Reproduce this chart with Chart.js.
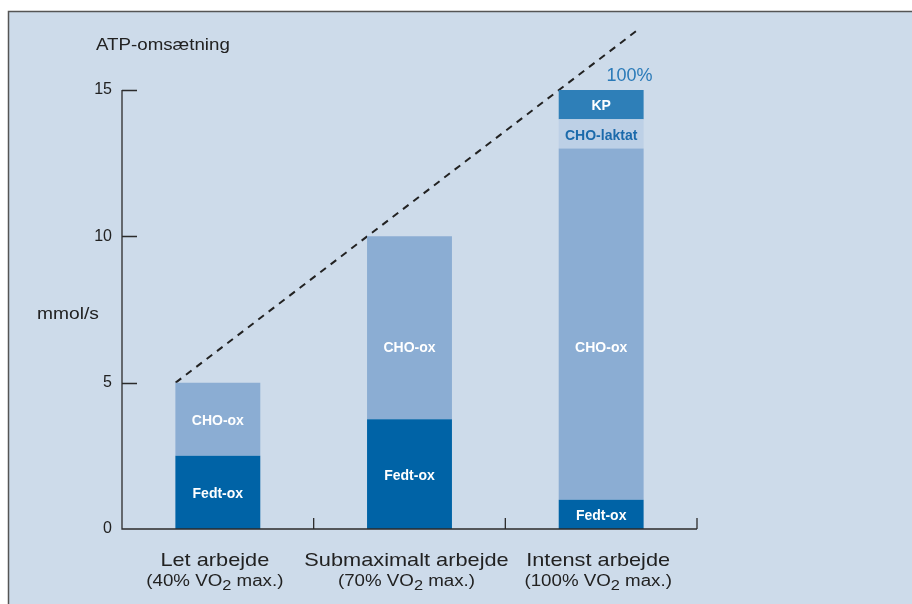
<!DOCTYPE html>
<html>
<head>
<meta charset="utf-8">
<script src="https://cdn.jsdelivr.net/npm/chart.js@4/dist/chart.umd.min.js"></script>
<style>
  html, body { margin: 0; padding: 0; background: #ffffff; }
  #wrap { width: 912px; height: 604px; position: relative; }
</style>
</head>
<body>
<div id="wrap"><canvas id="c" width="912" height="604"></canvas></div>
<script>
// ---- data ----
const categories = ['Let arbejde', 'Submaximalt arbejde', 'Intenst arbejde'];
const intensity = ['40%', '70%', '100%'];
const fedtOx = [2.5, 3.75, 1];
const choOx = [2.5, 6.25, 12];
const choLaktat = [0, 0, 1];
const kp = [0, 0, 1];
const lineX = [-0.22, 2.2];
const lineY = [5, 17.1];
const yTicks = [0, 5, 10, 15];
const yTitle = 'ATP-omsætning';
const yUnit = 'mmol/s';
const topLabel = '100%';

const FONT = '"Liberation Sans", Arial, Helvetica, sans-serif';
const BG = '#cddbea';
const AXIS = '#2b2b2b';
const LABEL_CAP = 6.25; // segment labels never sit higher than this level

const toPoints = arr => arr.map((v, i) => ({ x: i, y: v }));

function drawText(ctx, text, x, y, align, sx) {
  ctx.save();
  ctx.translate(x, y);
  ctx.scale(sx, 1);
  ctx.textAlign = align;
  ctx.fillText(text, 0, 0);
  ctx.restore();
}

const decor = {
  id: 'decor',
  beforeDraw(chart) {
    const ctx = chart.ctx;
    ctx.save();
    ctx.fillStyle = '#ffffff';
    ctx.fillRect(0, 0, chart.width, chart.height);
    ctx.fillStyle = BG;
    ctx.fillRect(8, 11, chart.width - 8, chart.height - 11);
    ctx.strokeStyle = '#555555';
    ctx.lineWidth = 1.5;
    ctx.beginPath();
    ctx.moveTo(8.5, chart.height);
    ctx.lineTo(8.5, 11.5);
    ctx.lineTo(chart.width, 11.5);
    ctx.stroke();
    ctx.restore();
  },
  afterDraw(chart) {
    const ctx = chart.ctx;
    const x = chart.scales.x, y = chart.scales.y;
    const area = chart.chartArea;
    ctx.save();
    ctx.strokeStyle = AXIS;
    ctx.lineWidth = 1.3;
    const y0 = y.getPixelForValue(0);
    const yMax = y.getPixelForValue(yTicks[yTicks.length - 1]);
    ctx.beginPath();
    ctx.moveTo(area.left, yMax);
    ctx.lineTo(area.left, y0);
    ctx.lineTo(area.right, y0);
    ctx.stroke();
    ctx.beginPath();
    yTicks.forEach(v => {
      if (v === 0) return;
      const py = Math.round(y.getPixelForValue(v)) + 0.5;
      ctx.moveTo(area.left, py);
      ctx.lineTo(area.left + 15, py);
    });
    for (let i = 1; i <= categories.length; i++) {
      const px = x.getPixelForValue(i - 0.5);
      ctx.moveTo(px, y0);
      ctx.lineTo(px, y0 - 11);
    }
    ctx.stroke();

    ctx.fillStyle = '#222222';
    ctx.textBaseline = 'alphabetic';
    ctx.font = '16px ' + FONT;
    drawText(ctx, yTitle, 96, 50, 'left', 1.17);
    drawText(ctx, yUnit, 37, 319, 'left', 1.2);

    categories.forEach((c, i) => {
      const cx = x.getPixelForValue(i) - 3;
      ctx.fillStyle = '#222222';
      ctx.font = '19px ' + FONT;
      drawText(ctx, c, cx, 566, 'center', 1.145);
      const sx = 1.17;
      const p1 = '(' + intensity[i] + ' VO', sub = '2', p2 = ' max.)';
      ctx.font = '16px ' + FONT;
      const w1 = ctx.measureText(p1).width * sx, w2 = ctx.measureText(p2).width * sx;
      ctx.font = '14px ' + FONT;
      const ws = ctx.measureText(sub).width * sx;
      const start = cx - (w1 + ws + w2) / 2;
      ctx.font = '16px ' + FONT;
      drawText(ctx, p1, start, 586, 'left', sx);
      ctx.font = '14px ' + FONT;
      drawText(ctx, sub, start + w1, 590, 'left', sx);
      ctx.font = '16px ' + FONT;
      drawText(ctx, p2, start + w1 + ws, 586, 'left', sx);
    });

    ctx.textAlign = 'center';
    ctx.textBaseline = 'middle';
    ctx.font = 'bold 14px ' + FONT;
    const capPx = y.getPixelForValue(LABEL_CAP);
    chart.data.datasets.forEach((ds, di) => {
      if (ds.type === 'line') return;
      const meta = chart.getDatasetMeta(di);
      meta.data.forEach((el, i) => {
        if (!ds.data[i].y) return;
        ctx.fillStyle = ds.labelColor || '#ffffff';
        let cy = (el.y + el.base) / 2;
        if (el.base - el.y > 100) cy = Math.max(cy, capPx);
        ctx.fillText(ds.label, el.x, cy + 2);
      });
    });

    const kpMeta = chart.getDatasetMeta(3);
    const last = kpMeta.data[categories.length - 1];
    ctx.textBaseline = 'alphabetic';
    ctx.font = '18px ' + FONT;
    ctx.fillStyle = '#2a7ab8';
    drawText(ctx, topLabel, last.x + last.width / 2 + 9, last.y - 9, 'right', 1);
    ctx.restore();
  }
};

new Chart(document.getElementById('c'), {
  type: 'bar',
  data: {
    datasets: [
      { label: 'Fedt-ox', data: toPoints(fedtOx), backgroundColor: '#0063a6', stack: 's' },
      { label: 'CHO-ox', data: toPoints(choOx), backgroundColor: '#8badd3', stack: 's' },
      { label: 'CHO-laktat', data: toPoints(choLaktat), backgroundColor: '#bdd0e6', labelColor: '#1b6aab', stack: 's' },
      { label: 'KP', data: toPoints(kp), backgroundColor: '#2e7fb8', stack: 's' },
      {
        type: 'line', label: 'ATP', stack: 'line',
        data: lineX.map((v, i) => ({ x: v, y: lineY[i] })),
        borderColor: '#222222', borderWidth: 2, borderDash: [7, 6],
        pointRadius: 0, fill: false, clip: false, tension: 0
      }
    ]
  },
  options: {
    responsive: false,
    animation: false,
    devicePixelRatio: 1,
    layout: { padding: { left: 0, top: 90, right: 215, bottom: 75 } },
    datasets: { bar: { barPercentage: 0.443, categoryPercentage: 1, borderWidth: 0 } },
    plugins: { legend: { display: false }, tooltip: { enabled: false } },
    scales: {
      x: {
        type: 'linear', display: false, stacked: true, offset: false, min: -0.5, max: 2.5,
        afterBuildTicks: s => { s.ticks = categories.map((c, i) => ({ value: i })); }
      },
      y: {
        type: 'linear', stacked: true, min: 0, max: 15,
        afterFit: s => { s.width = 122; },
        afterBuildTicks: s => { s.ticks = yTicks.map(v => ({ value: v })); },
        grid: { display: false },
        border: { display: false },
        ticks: { padding: 2, color: '#222222', font: { size: 16, family: FONT } }
      }
    }
  },
  plugins: [decor]
});
</script>
</body>
</html>
